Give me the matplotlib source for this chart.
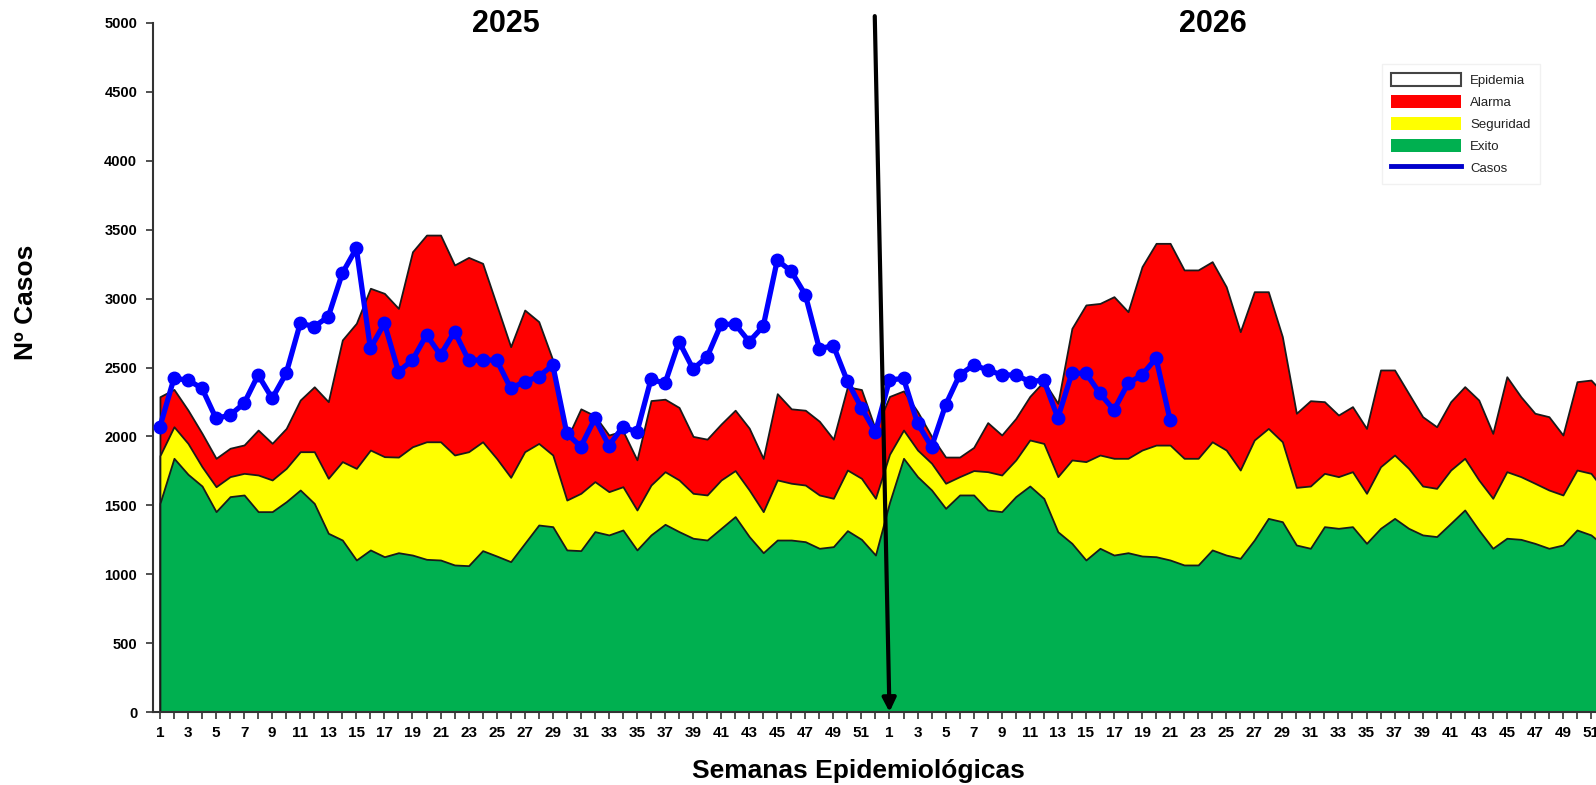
import numpy as np
import matplotlib.pyplot as plt
from matplotlib.patches import Patch
from matplotlib.lines import Line2D

plt.rcParams['font.family'] = ['Liberation Sans', 'DejaVu Sans']

# ------------------------------------
# canal endémico (límites superiores de cada zona) por semana
exito_2025 = [1514, 1841, 1725, 1640, 1454, 1563, 1575, 1454, 1454, 1526, 1611, 1514, 1297,
              1248, 1103, 1176, 1127, 1156, 1139, 1108, 1103, 1067, 1062, 1171, 1132, 1091,
              1224, 1357, 1345, 1176, 1171, 1309, 1285, 1321, 1176, 1285, 1362, 1309, 1261,
              1248, 1333, 1418, 1273, 1156, 1248, 1248, 1236, 1188, 1200, 1316, 1253, 1139]
seguridad_2025 = [1860, 2070, 1949, 1780, 1635, 1708, 1732, 1720, 1684, 1768, 1889, 1889, 1696,
                  1817, 1768, 1901, 1853, 1850, 1925, 1961, 1961, 1865, 1889, 1961, 1840, 1703,
                  1889, 1949, 1865, 1538, 1587, 1672, 1599, 1635, 1466, 1647, 1744, 1684, 1587,
                  1575, 1684, 1752, 1611, 1454, 1684, 1660, 1647, 1575, 1551, 1756, 1696, 1551]
alarma_2025 = [2288, 2341, 2191, 2022, 1841, 1914, 1938, 2046, 1950, 2058, 2264, 2360, 2252,
               2700, 2821, 3075, 3038, 2929, 3340, 3461, 3461, 3244, 3299, 3256, 2954, 2651,
               2917, 2833, 2554, 1980, 2200, 2150, 2010, 2040, 1830, 2260, 2270, 2210, 2000,
               1980, 2090, 2190, 2060, 1840, 2310, 2200, 2190, 2110, 1980, 2360, 2340, 2050]

exito_2026 = [1520, 1841, 1708, 1611, 1478, 1575, 1575, 1466, 1454, 1563, 1640, 1550, 1308,
              1224, 1103, 1188, 1139, 1156, 1132, 1127, 1103, 1067, 1067, 1176, 1139, 1115,
              1248, 1405, 1381, 1212, 1188, 1345, 1333, 1345, 1224, 1333, 1405, 1333, 1285,
              1273, 1369, 1466, 1321, 1188, 1261, 1253, 1224, 1188, 1212, 1321, 1285, 1200]
seguridad_2026 = [1870, 2046, 1901, 1805, 1660, 1708, 1752, 1744, 1720, 1829, 1974, 1949, 1708,
                  1829, 1817, 1865, 1841, 1841, 1901, 1937, 1937, 1841, 1841, 1961, 1901, 1756,
                  1974, 2058, 1961, 1630, 1640, 1732, 1708, 1744, 1587, 1780, 1865, 1768, 1640,
                  1623, 1756, 1841, 1684, 1551, 1744, 1708, 1660, 1611, 1575, 1756, 1732, 1600]
alarma_2026 = [2290, 2330, 2180, 2000, 1850, 1850, 1920, 2100, 2010, 2130, 2290, 2400, 2240,
               2784, 2954, 2965, 3014, 2905, 3232, 3401, 3401, 3208, 3208, 3268, 3086, 2760,
               3050, 3050, 2724, 2168, 2259, 2252, 2155, 2216, 2058, 2482, 2482, 2312, 2143,
               2070, 2252, 2361, 2264, 2022, 2433, 2288, 2168, 2143, 2010, 2397, 2409, 2300]

# casos notificados
casos_2025 = [2070, 2421, 2409, 2349, 2130, 2155, 2240, 2446, 2276, 2458, 2821, 2797, 2869,
              3184, 3365, 2639, 2821, 2470, 2554, 2736, 2591, 2760, 2554, 2554, 2554, 2349,
              2397, 2434, 2518, 2022, 1925, 2130, 1933, 2070, 2031, 2415, 2385, 2688, 2489,
              2577, 2814, 2814, 2688, 2799, 3279, 3198, 3028, 2636, 2659, 2400, 2208, 2031]
casos_2026 = [2409, 2421, 2095, 1925, 2228, 2446, 2518, 2482, 2446, 2446, 2397, 2409, 2134,
              2458, 2458, 2312, 2191, 2385, 2446, 2567, 2119]

anios = ['2025', '2026']
semanas = list(range(1, 53))

# ------------------------------------
exito = np.array(exito_2025 + exito_2026)
seguridad = np.array(seguridad_2025 + seguridad_2026)
alarma = np.array(alarma_2025 + alarma_2026)
casos = np.array(casos_2025 + casos_2026)

x = np.arange(1, len(exito) + 1)
xc = np.arange(1, len(casos) + 1)

W, H = 1596, 785
px_week = 14.03
x0 = 0.47
x1 = 104.5
fig = plt.figure(figsize=(W / 100, H / 100), dpi=100)
ax = fig.add_axes([152.5 / W, 73 / H, (x1 - x0) * px_week / W, 689 / H])

ax.fill_between(x, 0, alarma, facecolor='#FF0000', edgecolor='#1a1a1a', linewidth=1.3)
ax.fill_between(x, 0, seguridad, facecolor='#FFFF00', edgecolor='#1a1a1a', linewidth=1.3)
ax.fill_between(x, 0, exito, facecolor='#00B050', edgecolor='#1a1a1a', linewidth=1.3)

ax.plot(xc, casos, color='#0000FF', linewidth=3.8, marker='o', markersize=9,
        markerfacecolor='#0000FF', markeredgecolor='#0000FF', zorder=5)

# flecha de cambio de año
ax.annotate('', xy=(53, 0), xytext=(51.95, 5050),
            arrowprops=dict(arrowstyle='-|>', color='black', lw=3, mutation_scale=20,
                            shrinkA=0, shrinkB=0),
            annotation_clip=False, zorder=6)

ax.set_xlim(x0, x1)
ax.set_ylim(0, 5000)
ax.set_yticks(range(0, 5001, 500))
ax.set_yticklabels([str(v) for v in range(0, 5001, 500)], fontsize=10.5, fontweight='bold')
ax.set_xticks(x)
xlabels = [str(s) if s % 2 == 1 else '' for s in semanas] * 2
ax.set_xticklabels(xlabels, fontsize=11, fontweight='bold')
ax.tick_params(axis='both', direction='out', length=5, width=1.2, color='#333333')
ax.tick_params(axis='x', pad=5)
ax.tick_params(axis='y', pad=6)

for s in ['top', 'right']:
    ax.spines[s].set_visible(False)
ax.spines['left'].set_linewidth(1.5)
ax.spines['left'].set_color('#333333')
ax.spines['bottom'].set_linewidth(1.5)
ax.spines['bottom'].set_color('#333333')

fig.text(0.5 * (506 + 1213) / W - (1213 - 506) / 2 / W, 1 - 24 / H, anios[0],
         ha='center', va='center', fontsize=22, fontweight='bold')
fig.text(1213 / W, 1 - 24 / H, anios[1], ha='center', va='center', fontsize=22, fontweight='bold')

fig.text(858 / W, 1 - 771 / H, 'Semanas Epidemiológicas', ha='center', va='center',
         fontsize=19, fontweight='bold')
fig.text(26 / W, 1 - 302 / H, 'Nº Casos', ha='center', va='center', rotation=90,
         fontsize=19, fontweight='bold')

handles = [Patch(facecolor='white', edgecolor='#444444', linewidth=1.5),
           Patch(facecolor='#FF0000', edgecolor='none'),
           Patch(facecolor='#FFFF00', edgecolor='none'),
           Patch(facecolor='#00B050', edgecolor='none'),
           Line2D([0], [0], color='#0000CC', linewidth=3.5)]
labels = ['Epidemia', 'Alarma', 'Seguridad', 'Exito', 'Casos']
leg = fig.legend(handles, labels, loc='upper left', bbox_to_anchor=(1375 / W, 1 - 57 / H),
                 bbox_transform=fig.transFigure, fontsize=9.5, frameon=True, fancybox=False,
                 handlelength=5.3, handleheight=1.1, labelspacing=0.62, handletextpad=0.7,
                 borderpad=0.7, edgecolor='#eeeeee')
for t in leg.get_texts():
    t.set_color('#222222')

fig.savefig('out.png', dpi=100)
